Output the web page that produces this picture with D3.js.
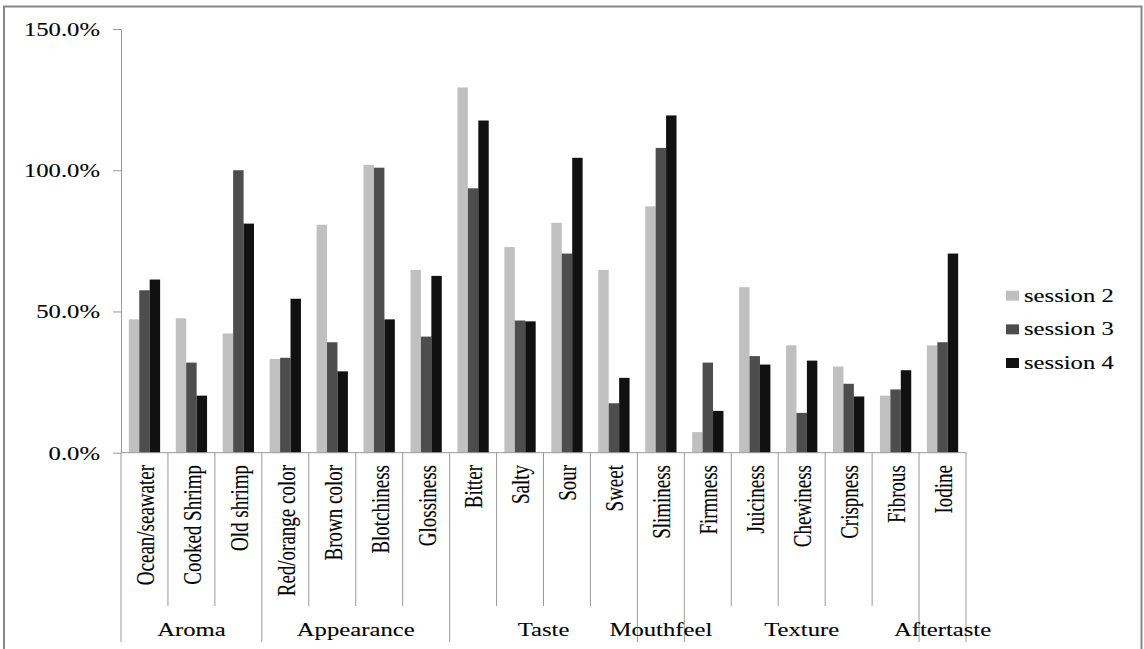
<!DOCTYPE html>
<html>
<head>
<meta charset="utf-8">
<script src="https://cdn.jsdelivr.net/npm/d3@7"></script>
<style>
  html, body { margin: 0; padding: 0; background: #fff; }
  svg { display: block; }
  svg text {
    font-family: "Liberation Serif", "DejaVu Serif", "Times New Roman", Times, serif !important;
    fill: #000; stroke: #222; stroke-width: 0.12px;
  }
</style>
</head>
<body>
<svg id="chart" width="1144" height="649"></svg>
<script>
// Sensory attributes (x categories), in drawing order
const attributes = [
  "Ocean/seawater", "Cooked Shrimp", "Old shrimp",
  "Red/orange color", "Brown color", "Blotchiness", "Glossiness",
  "Bitter", "Salty", "Sour", "Sweet",
  "Sliminess",
  "Firmness", "Juiciness", "Chewiness", "Crispness", "Fibrous",
  "Iodine"
];

// Attribute groups and how many attributes each spans
const groupNames = ["Aroma", "Appearance", "Taste", "Mouthfeel", "Texture", "Aftertaste"];
const groupSpans = [3, 4, 4, 1, 5, 1];

// Series values (percent)
const seriesNames = ["session 2", "session 3", "session 4"];
const session2 = [47.2, 47.6, 42.2, 33.2, 80.7, 101.9, 64.7, 129.3, 72.8, 81.4, 64.7, 87.2, 7.3, 58.6, 38.0, 30.5, 20.2, 38.0];
const session3 = [57.5, 31.9, 100.0, 33.6, 39.1, 100.9, 41.1, 93.6, 46.8, 70.5, 17.5, 107.9, 31.9, 34.2, 14.1, 24.4, 22.4, 39.1];
const session4 = [61.3, 20.2, 81.1, 54.5, 28.8, 47.2, 62.6, 117.6, 46.5, 104.4, 26.5, 119.4, 14.8, 31.2, 32.6, 19.9, 29.2, 70.5];
const seriesColors = ["#c0c0c0", "#4d4d4d", "#111111"];

// Y axis ticks
const yTicks = [0, 50, 100, 150];

const seriesValues = [session2, session3, session4];
const svg = d3.select("#chart");
const STRETCH = 1.3;       // horizontal glyph stretch used by all labels
const FONT = 19;
const SERIF = "'Liberation Serif', 'DejaVu Serif', serif";
const axisColor = "#9a9a9a";

// Outer frame
svg.append("rect")
  .attr("x", 4).attr("y", 6.5)
  .attr("width", 1137.5).attr("height", 700)
  .attr("fill", "none")
  .attr("stroke", "#888")
  .attr("stroke-width", 2);

const plot = { left: 121, right: 966, top: 29, bottom: 452.7 };

const x = d3.scaleBand()
  .domain(attributes)
  .range([plot.left, plot.right])
  .paddingInner(0).paddingOuter(0);

const xSub = d3.scaleBand()
  .domain(seriesNames)
  .range([0, x.bandwidth()])
  .paddingInner(0)
  .paddingOuter(0.75);

const y = d3.scaleLinear()
  .domain([0, 150])
  .range([plot.bottom, plot.top]);

// Bars
const barData = [];
attributes.forEach((a, i) => {
  seriesNames.forEach((s, j) => {
    barData.push({ attr: a, series: s, value: seriesValues[j][i], color: seriesColors[j] });
  });
});

svg.append("g")
  .selectAll("rect")
  .data(barData)
  .join("rect")
  .attr("x", d => x(d.attr) + xSub(d.series))
  .attr("y", d => y(d.value))
  .attr("width", xSub.bandwidth())
  .attr("height", d => y(0) - y(d.value))
  .attr("fill", d => d.color);

// Y axis
const yAxis = svg.append("g")
  .attr("transform", `translate(${plot.left},0)`)
  .call(d3.axisLeft(y).tickValues(yTicks).tickSize(8).tickSizeOuter(0)
    .tickFormat(d => d.toFixed(1) + "%"));
yAxis.attr("font-family", SERIF).attr("font-size", FONT);
yAxis.select(".domain").attr("stroke", axisColor);
yAxis.selectAll(".tick line").attr("stroke", axisColor);
yAxis.selectAll(".tick text")
  .attr("x", null).attr("dy", null)
  .attr("text-anchor", "end")
  .attr("dominant-baseline", "central")
  .attr("font-family", SERIF)
  .attr("font-size", FONT)
  .attr("fill", "#000")
  .attr("transform", `translate(-21,0) scale(${STRETCH},1)`);

// X axis baseline
svg.append("line")
  .attr("x1", plot.left).attr("x2", plot.right)
  .attr("y1", y(0)).attr("y2", y(0))
  .attr("stroke", axisColor);

// Category boundaries: long lines at group edges, short lines elsewhere
const groupEdges = new Set([0]);
let acc = 0;
groupSpans.forEach(s => { acc += s; groupEdges.add(acc); });
const step = x.step();
const boundaries = d3.range(attributes.length + 1);
svg.append("g")
  .selectAll("line")
  .data(boundaries)
  .join("line")
  .attr("x1", k => plot.left + k * step)
  .attr("x2", k => plot.left + k * step)
  .attr("y1", y(0))
  .attr("y2", k => groupEdges.has(k) ? 642 : 606)
  .attr("stroke", axisColor);

// Rotated attribute labels
svg.append("g")
  .selectAll("text")
  .data(attributes)
  .join("text")
  .attr("transform", d => `translate(${x(d) + x.bandwidth() / 2 + 1},465) scale(${STRETCH},1) rotate(-90)`)
  .attr("text-anchor", "end")
  .attr("dominant-baseline", "central")
  .attr("font-family", SERIF)
  .attr("font-size", FONT)
  .text(d => d);

// Group labels
let start = 0;
const groupData = groupNames.map((g, i) => {
  const d = { name: g, from: start, to: start + groupSpans[i] };
  start += groupSpans[i];
  return d;
});
svg.append("g")
  .selectAll("text")
  .data(groupData)
  .join("text")
  .attr("transform", d => `translate(${plot.left + (d.from + d.to) / 2 * step},636) scale(${STRETCH},1)`)
  .attr("text-anchor", "middle")
  .attr("font-family", SERIF)
  .attr("font-size", FONT)
  .text(d => d.name);

// Legend
const legend = svg.append("g").attr("transform", "translate(1006,0)");
const legendY = d3.scalePoint().domain(seriesNames).range([295.7, 363]);
seriesNames.forEach((s, j) => {
  legend.append("rect")
    .attr("x", 0).attr("y", legendY(s) - 5)
    .attr("width", 13).attr("height", 10)
    .attr("fill", seriesColors[j]);
  legend.append("text")
    .attr("transform", `translate(18,${legendY(s) + 6}) scale(${STRETCH},1)`)
    .attr("font-family", SERIF)
    .attr("font-size", FONT)
    .text(s);
});
</script>
</body>
</html>
